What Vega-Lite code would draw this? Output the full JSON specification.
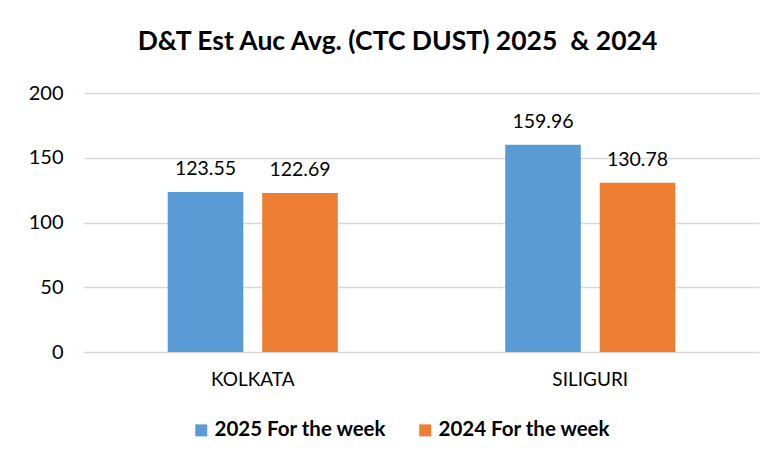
{
  "$schema": "https://vega.github.io/schema/vega-lite/v6.json",
  "width": 675,
  "height": 259,
  "autosize": "none",
  "padding": {"left": 84, "top": 93, "right": 16, "bottom": 110},
  "background": "white",
  "title": {
    "text": "D&T Est Auc Avg. (CTC DUST) 2025\u00a0 & 2024",
    "font": "Lato",
    "fontSize": 26.5,
    "fontWeight": "bold",
    "color": "#000000",
    "anchor": "middle",
    "dx": -24,
    "offset": 28
  },
  "data": {
    "values": [
      {"centre": "KOLKATA", "series": "2025 For the week", "value": 123.55},
      {"centre": "KOLKATA", "series": "2024 For the week", "value": 122.69},
      {"centre": "SILIGURI", "series": "2025 For the week", "value": 159.96},
      {"centre": "SILIGURI", "series": "2024 For the week", "value": 130.78}
    ]
  },
  "encoding": {
    "x": {
      "field": "centre",
      "type": "nominal",
      "sort": ["KOLKATA", "SILIGURI"],
      "scale": {"paddingInner": 0.496, "paddingOuter": 0.248},
      "axis": {
        "title": null,
        "labelAngle": 0,
        "labelFont": "Lato",
        "labelFontSize": 19,
        "labelColor": "#000000",
        "labelPadding": 18,
        "ticks": false,
        "domain": false
      }
    },
    "xOffset": {
      "field": "series",
      "type": "nominal",
      "sort": ["2025 For the week", "2024 For the week"],
      "scale": {"paddingInner": 0.2, "paddingOuter": 0}
    },
    "y": {
      "field": "value",
      "type": "quantitative",
      "scale": {"domain": [0, 200], "nice": false},
      "axis": {
        "title": null,
        "values": [0, 50, 100, 150, 200],
        "labelFont": "Lato",
        "labelFontSize": 20,
        "labelColor": "#000000",
        "labelPadding": 21,
        "ticks": false,
        "domain": false,
        "gridColor": "#d9d9d9",
        "gridWidth": 1.3
      }
    }
  },
  "layer": [
    {
      "mark": {"type": "bar"},
      "encoding": {
        "color": {
          "field": "series",
          "type": "nominal",
          "sort": ["2025 For the week", "2024 For the week"],
          "scale": {"domain": ["2025 For the week", "2024 For the week"], "range": ["#5B9BD5", "#ED7D31"]},
          "legend": {
            "title": null,
            "orient": "none",
            "direction": "horizontal",
            "legendX": 107,
            "legendY": 327,
            "symbolType": "square",
            "symbolSize": 144,
            "symbolStrokeWidth": 0,
            "labelFont": "Lato",
            "labelFontSize": 20.5,
            "labelFontWeight": "bold",
            "labelColor": "#000000",
            "labelLimit": 400,
            "columnPadding": 28,
            "labelOffset": 3
          }
        }
      }
    },
    {
      "mark": {"type": "text", "baseline": "alphabetic", "dy": -17, "font": "Lato", "fontSize": 19.5, "color": "#000000"},
      "encoding": {
        "text": {"field": "value", "type": "quantitative", "format": ".2f"}
      }
    }
  ],
  "config": {"view": {"stroke": null}}
}
